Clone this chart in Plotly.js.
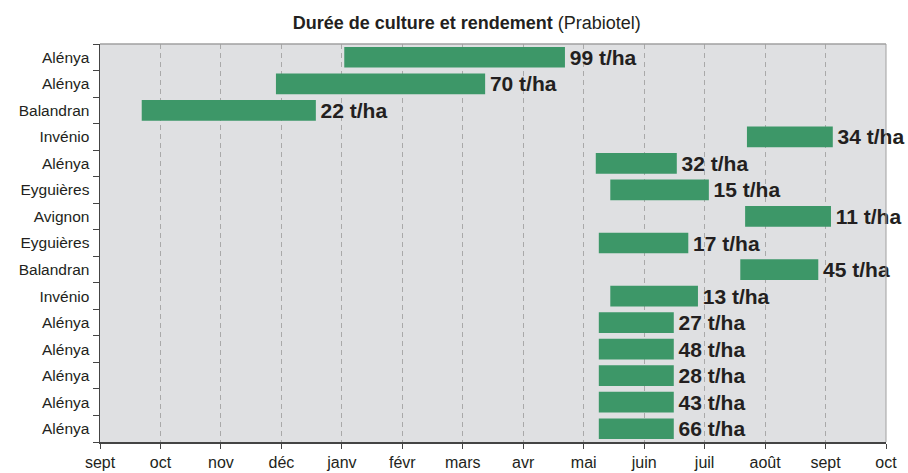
<!DOCTYPE html>
<html>
<head>
<meta charset="utf-8">
<script src="https://cdn.plot.ly/plotly-3.0.1.min.js"></script>
<style>html,body{margin:0;padding:0;background:#fff;}</style>
</head>
<body>
<div id="chart" style="width:908px;height:473px;"></div>
<script>
// Month tick labels (sept of year 1 to oct of year 2), positions are month indices
const monthLabels = ["sept","oct","nov","déc","janv","févr","mars","avr","mai","juin","juil","août","sept","oct"];

// Rows, top to bottom
const sites = ["Alénya","Alénya","Balandran","Invénio","Alénya","Eyguières","Avignon","Eyguières","Balandran","Invénio","Alénya","Alénya","Alénya","Alénya","Alénya"];
// Start and end of cultivation, in months since start of September
const startMonth = [4.04, 2.91, 0.69, 10.70, 8.20, 8.44, 10.67, 8.25, 10.59, 8.44, 8.25, 8.25, 8.25, 8.25, 8.25];
const endMonth   = [7.69, 6.37, 3.57, 12.12, 9.54, 10.07, 12.09, 9.73, 11.88, 9.89, 9.49, 9.49, 9.49, 9.49, 9.49];
// Yield (t/ha)
const yields = [99, 70, 22, 34, 32, 15, 11, 17, 45, 13, 27, 48, 28, 43, 66];

const rows = sites.map((_, i) => i);
const durations = endMonth.map((e, i) => e - startMonth[i]);
const labels = yields.map(v => "\u200A" + v + " t/ha");
const monthTicks = monthLabels.map((_, i) => i);
const boundaries = [];
for (let i = 0; i <= sites.length; i++) boundaries.push(i - 0.5);

const FONT = "Liberation Sans, Arial, sans-serif";
const yRange = [sites.length - 0.5, -0.5];

const traces = [
  {
    type: "bar",
    orientation: "h",
    y: rows,
    x: durations,
    base: startMonth,
    width: 0.78,
    marker: {color: "#3d9768", line: {width: 0}},
    text: labels,
    textposition: "outside",
    constraintext: "none",
    cliponaxis: false,
    outsidetextfont: {family: FONT, size: 21, color: "#231f20", weight: "bold"},
    textfont: {family: FONT, size: 21, color: "#231f20", weight: "bold"},
    hoverinfo: "skip",
    xaxis: "x",
    yaxis: "y"
  },
  {
    // invisible helper trace so the boundary-tick axis is drawn
    type: "scatter",
    mode: "markers",
    y: rows,
    x: startMonth,
    marker: {size: 0, opacity: 0},
    hoverinfo: "skip",
    xaxis: "x",
    yaxis: "y2"
  }
];

const layout = {
  width: 908,
  height: 473,
  margin: {l: 100, r: 22, t: 44, b: 31},
  paper_bgcolor: "#ffffff",
  plot_bgcolor: "#dfe0e2",
  showlegend: false,
  title: {
    text: "<b>Durée de culture et rendement</b> (Prabiotel)",
    font: {family: FONT, size: 18, color: "#231f20"},
    x: 0.514, xanchor: "center",
    y: 0.952, yanchor: "middle"
  },
  xaxis: {
    range: [0, 13],
    tickvals: monthTicks,
    ticktext: monthLabels,
    ticks: "outside",
    ticklen: 5,
    tickcolor: "#444",
    tickfont: {family: FONT, size: 16, color: "#231f20"},
    showgrid: true,
    gridcolor: "#a9a9a9",
    gridwidth: 1,
    griddash: "5px,4px",
    showline: true,
    linecolor: "#444",
    linewidth: 1.5,
    zeroline: false,
    fixedrange: true
  },
  yaxis: {
    range: yRange,
    tickvals: rows,
    ticktext: sites,
    ticks: "",
    tickfont: {family: FONT, size: 15.5, color: "#231f20"},
    ticklabelstandoff: 6,
    showgrid: false,
    zeroline: false,
    showline: true,
    linecolor: "#444",
    linewidth: 1.5,
    fixedrange: true
  },
  yaxis2: {
    overlaying: "y",
    side: "left",
    range: yRange,
    tickvals: boundaries,
    ticks: "outside",
    ticklen: 6,
    tickcolor: "#444",
    showticklabels: false,
    showgrid: false,
    zeroline: false,
    showline: false,
    fixedrange: true
  },
  shapes: [
    {type: "line", xref: "paper", yref: "paper", x0: 0, x1: 1, y0: 1, y1: 1, line: {color: "#a0a0a0", width: 1.5}},
    {type: "line", xref: "paper", yref: "paper", x0: 1, x1: 1, y0: 0, y1: 1, line: {color: "#a0a0a0", width: 1}}
  ]
};

Plotly.newPlot("chart", traces, layout, {displayModeBar: false, staticPlot: true});
</script>
</body>
</html>
